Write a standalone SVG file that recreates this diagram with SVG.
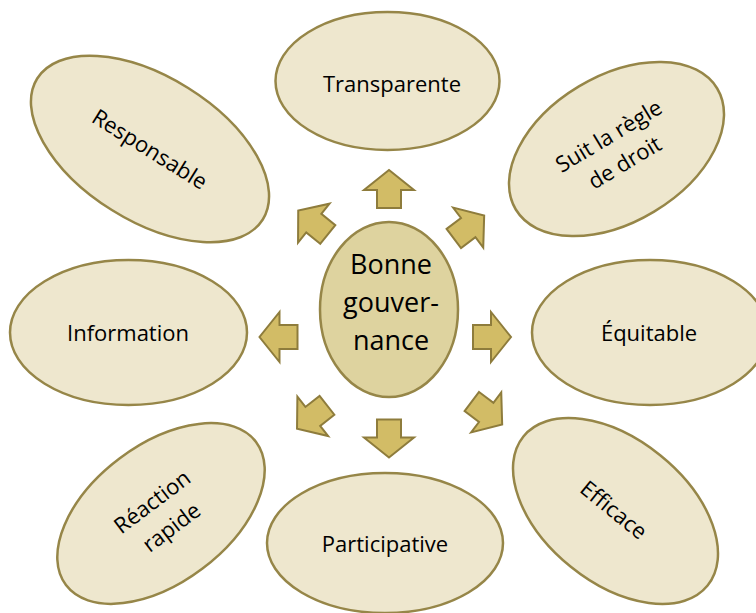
<svg xmlns="http://www.w3.org/2000/svg" width="756" height="613" viewBox="0 0 756 613">
<defs>
<style>
.out{fill:#EEE7CE;stroke:#968648;stroke-width:2.5}
.ctr{fill:#DED39F;stroke:#968648;stroke-width:2.5}
.arr{fill:#D2BC66;stroke:#8E7C3C;stroke-width:2;stroke-linejoin:miter}
.t{font-family:"Open Sans","Noto Sans","DejaVu Sans",sans-serif;font-size:22px;fill:#000;text-anchor:middle}
.tc{font-family:"Open Sans","Noto Sans","DejaVu Sans",sans-serif;font-size:27px;fill:#000;text-anchor:middle}
</style>
<polygon id="ar" points="-19,-12 -1,-12 -1,-25 19,0 -1,25 -1,12 -19,12"/>
</defs>
<rect width="756" height="613" fill="#fff"/>
<g id="connectors">
<use href="#ar" class="arr" transform="translate(389,189) rotate(-90)"/>
<use href="#ar" class="arr" transform="translate(389,438.5) rotate(90)"/>
<use href="#ar" class="arr" transform="translate(278.5,337) rotate(180)"/>
<use href="#ar" class="arr" transform="translate(492,337)"/>
<use href="#ar" class="arr" transform="translate(313,222.5) rotate(-141)"/>
<use href="#ar" class="arr" transform="translate(469,227) rotate(-37)"/>
<use href="#ar" class="arr" transform="translate(312,417) rotate(142)"/>
<use href="#ar" class="arr" transform="translate(487,413) rotate(37)"/>
</g>
<g id="center">
<ellipse class="ctr" cx="389" cy="309.5" rx="69" ry="87.5"/>
<text class="tc" x="391" y="274">Bonne</text>
<text class="tc" x="391" y="312">gouver-</text>
<text class="tc" x="391" y="350">nance</text>
</g>
<g id="transparente">
<ellipse class="out" cx="387.5" cy="81" rx="112" ry="69"/>
<text class="t" x="392" y="92">Transparente</text>
</g>
<g id="responsable" transform="translate(150,149) rotate(32)">
<ellipse class="out" cx="0" cy="0" rx="133" ry="72"/>
<text class="t" x="0" y="8">Responsable</text>
</g>
<g id="suit" transform="translate(616.5,149) rotate(-31)">
<ellipse class="out" cx="0" cy="0" rx="117.5" ry="73"/>
<text class="t" x="0" y="-7.5">Suit la règle</text>
<text class="t" x="0" y="23.5">de droit</text>
</g>
<g id="information">
<ellipse class="out" cx="128.5" cy="332.5" rx="118.5" ry="72.5"/>
<text class="t" x="128" y="341">Information</text>
</g>
<g id="equitable">
<ellipse class="out" cx="650" cy="332.5" rx="118" ry="72.5"/>
<text class="t" x="649" y="341">Équitable</text>
</g>
<g id="reaction" transform="translate(161,513.5) rotate(-37)">
<ellipse class="out" cx="0" cy="0" rx="119" ry="69"/>
<text class="t" x="0" y="-7">Réaction</text>
<text class="t" x="0" y="25">rapide</text>
</g>
<g id="participative">
<ellipse class="out" cx="385" cy="543" rx="118" ry="70"/>
<text class="t" x="385" y="552">Participative</text>
</g>
<g id="efficace" transform="translate(615.5,511) rotate(39)">
<ellipse class="out" cx="0" cy="0" rx="118.5" ry="71.5"/>
<text class="t" x="-2" y="8">Efficace</text>
</g>
</svg>
